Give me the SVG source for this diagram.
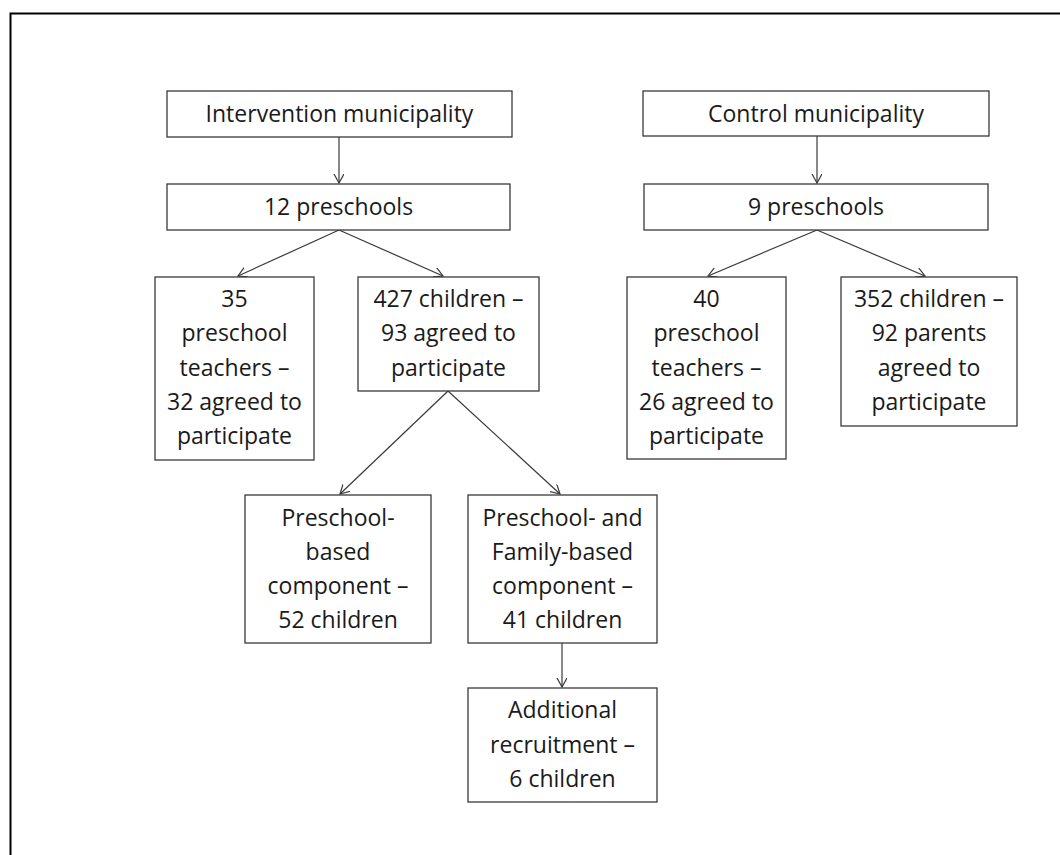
<svg xmlns="http://www.w3.org/2000/svg" width="1060" height="855" viewBox="0 0 1060 855">
<style>
.box{fill:#fff;stroke:#3a3a3a;stroke-width:1.3}
.t{font-family:"Open Sans","Liberation Sans",sans-serif;font-size:23px;fill:#1a1a1a;text-anchor:middle}
.c{stroke:#3a3a3a;stroke-width:1.2;fill:none;marker-end:url(#ah)}
</style>
<defs>
<marker id="ah" markerUnits="userSpaceOnUse" markerWidth="12" markerHeight="12" refX="9" refY="5" orient="auto">
<path d="M0,0 L9,5 L0,10" fill="none" stroke="#3a3a3a" stroke-width="1.2"/>
</marker>
</defs>
<rect width="1060" height="855" fill="#fff"/>
<path d="M10.5,900 V13.5 H1100" fill="none" stroke="#000" stroke-width="2"/>
<g id="connectors">
<line class="c" x1="339" y1="137" x2="339" y2="183"/>
<line class="c" x1="817" y1="136" x2="817" y2="183"/>
<line class="c" x1="339" y1="230" x2="238" y2="276"/>
<line class="c" x1="339" y1="230" x2="443" y2="276"/>
<line class="c" x1="817" y1="230" x2="708" y2="276"/>
<line class="c" x1="817" y1="230" x2="925" y2="276"/>
<line class="c" x1="448" y1="391" x2="340" y2="494"/>
<line class="c" x1="448" y1="391" x2="560" y2="494"/>
<line class="c" x1="562" y1="643" x2="562" y2="687"/>
</g>
<g id="intervention">
<rect class="box" x="167" y="91" width="345" height="46"/>
<text class="t" x="339.5" y="122">Intervention municipality</text>
</g>
<g id="control">
<rect class="box" x="643" y="91" width="346" height="45"/>
<text class="t" x="816" y="122">Control municipality</text>
</g>
<g id="preschools12">
<rect class="box" x="167" y="184" width="343" height="46"/>
<text class="t" x="338.5" y="215">12 preschools</text>
</g>
<g id="preschools9">
<rect class="box" x="644" y="184" width="344" height="46"/>
<text class="t" x="816" y="215">9 preschools</text>
</g>
<g id="teachers35">
<rect class="box" x="155" y="277" width="159" height="183"/>
<text class="t" x="234.5" y="307">35</text>
<text class="t" x="234.5" y="341">preschool</text>
<text class="t" x="234.5" y="375.5">teachers –</text>
<text class="t" x="234.5" y="410">32 agreed to</text>
<text class="t" x="234.5" y="444">participate</text>
</g>
<g id="children427">
<rect class="box" x="358" y="277" width="181" height="114"/>
<text class="t" x="448.5" y="307">427 children –</text>
<text class="t" x="448.5" y="341">93 agreed to</text>
<text class="t" x="448.5" y="375.5">participate</text>
</g>
<g id="teachers40">
<rect class="box" x="627" y="277" width="159" height="182"/>
<text class="t" x="706.5" y="307">40</text>
<text class="t" x="706.5" y="341">preschool</text>
<text class="t" x="706.5" y="375.5">teachers –</text>
<text class="t" x="706.5" y="410">26 agreed to</text>
<text class="t" x="706.5" y="444">participate</text>
</g>
<g id="children352">
<rect class="box" x="841" y="277" width="176" height="149"/>
<text class="t" x="929" y="307">352 children –</text>
<text class="t" x="929" y="341">92 parents</text>
<text class="t" x="929" y="375.5">agreed to</text>
<text class="t" x="929" y="410">participate</text>
</g>
<g id="preschool-based">
<rect class="box" x="245" y="495" width="186" height="148"/>
<text class="t" x="338" y="526">Preschool-</text>
<text class="t" x="338" y="560">based</text>
<text class="t" x="338" y="594">component –</text>
<text class="t" x="338" y="628">52 children</text>
</g>
<g id="family-based">
<rect class="box" x="468" y="495" width="189" height="148"/>
<text class="t" x="562.5" y="526">Preschool- and</text>
<text class="t" x="562.5" y="560">Family-based</text>
<text class="t" x="562.5" y="594">component –</text>
<text class="t" x="562.5" y="628">41 children</text>
</g>
<g id="additional">
<rect class="box" x="468" y="688" width="189" height="114"/>
<text class="t" x="562.5" y="718">Additional</text>
<text class="t" x="562.5" y="752.5">recruitment –</text>
<text class="t" x="562.5" y="787">6 children</text>
</g>
</svg>
